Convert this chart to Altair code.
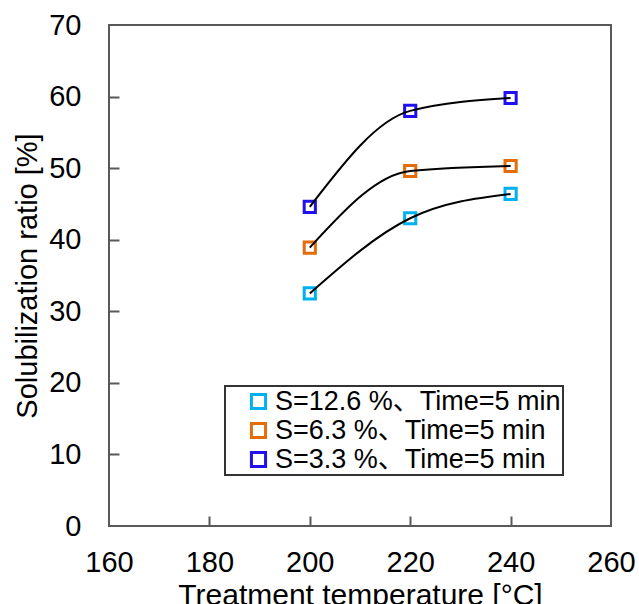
import altair as alt
import pandas as pd

# ---- data ----
temps = [200, 220, 240]
series_names = ["S=12.6 %、Time=5 min", "S=6.3 %、Time=5 min", "S=3.3 %、Time=5 min"]
ratio_s126 = [32.5, 43.0, 46.4]
ratio_s63 = [38.9, 49.6, 50.3]
ratio_s33 = [44.6, 58.0, 59.8]
series_colors = ["#00B0F0", "#E46C0A", "#2010F0"]

x_label_values = [160, 180, 200, 220, 240, 260]
x_inner_ticks = [180, 200, 220, 240]
y_label_values = [0, 10, 20, 30, 40, 50, 60, 70]
y_inner_ticks = [10, 20, 30, 40, 50, 60]

rows = []
for name, vals in zip(series_names, [ratio_s126, ratio_s63, ratio_s33]):
    for t, v in zip(temps, vals):
        rows.append({"temp": t, "ratio": v, "series": name})
df = pd.DataFrame(rows)

FONT = "Liberation Sans, Noto Sans CJK JP"
W, H = 502, 501
FRAME = "#595959"

xscale = alt.Scale(domain=[160, 260], nice=False, zero=False)
yscale = alt.Scale(domain=[0, 70], nice=False)

base = alt.Chart(df)

points = base.mark_point(shape="square", filled=False, size=125, strokeWidth=3, opacity=1).encode(
    x=alt.X("temp:Q", scale=xscale,
            axis=alt.Axis(orient="bottom", values=x_label_values, ticks=False, domain=False, grid=False,
                          labelFontSize=29, labelFont=FONT, labelColor="#000", labelPadding=22,
                          labelFlush=False, labelOverlap=False,
                          title="Treatment temperature [°C]", titleFontSize=30, titleFont=FONT,
                          titleFontWeight="normal", titleColor="#000", titlePadding=3)),
    y=alt.Y("ratio:Q", scale=yscale,
            axis=alt.Axis(orient="left", values=y_label_values, ticks=False, domain=False, grid=False,
                          labelFontSize=29, labelFont=FONT, labelColor="#000", labelPadding=28,
                          labelFlush=False, labelOverlap=False,
                          title="Solubilization ratio [%]", titleFontSize=29, titleFont=FONT,
                          titleFontWeight="normal", titleColor="#000", titlePadding=6)),
    color=alt.Color("series:N", scale=alt.Scale(domain=series_names, range=series_colors),
                    sort=series_names,
                    legend=alt.Legend(title=None, orient="none", legendX=116, legendY=361,
                                      direction="vertical", labelFontSize=27, labelFont=FONT,
                                      labelColor="#000", labelLimit=500, symbolType="square",
                                      symbolSize=200, symbolStrokeWidth=3, rowPadding=1,
                                      padding=2, symbolOffset=18, labelOffset=3,
                                      strokeColor="#333333")),
)

lines = base.mark_line(interpolate="monotone", color="black", strokeWidth=2).encode(
    x=alt.X("temp:Q", scale=xscale, axis=None),
    y=alt.Y("ratio:Q", scale=yscale, axis=None),
    detail="series:N",
)

inner_ticks = base.mark_point(opacity=0).encode(
    x=alt.X("temp:Q", scale=xscale,
            axis=alt.Axis(orient="top", offset=-H, values=x_inner_ticks, labels=False, domain=False,
                          grid=False, ticks=True, tickSize=10, tickWidth=2, tickColor=FRAME, title=None)),
    y=alt.Y("ratio:Q", scale=yscale,
            axis=alt.Axis(orient="right", offset=-W, values=y_inner_ticks, labels=False, domain=False,
                          grid=False, ticks=True, tickSize=10, tickWidth=2, tickColor=FRAME, title=None)),
)

chart = alt.layer(points, lines, inner_ticks).properties(
    width=W, height=H,
    autosize=alt.AutoSizeParams(type="none"),
    padding={"left": 109, "top": 25, "right": 28, "bottom": 78},
    background="white",
).configure_view(stroke=FRAME, strokeWidth=2).configure_legend(strokeWidth=2)

chart.save("out.html", embed_options={"renderer": "svg", "actions": False})
